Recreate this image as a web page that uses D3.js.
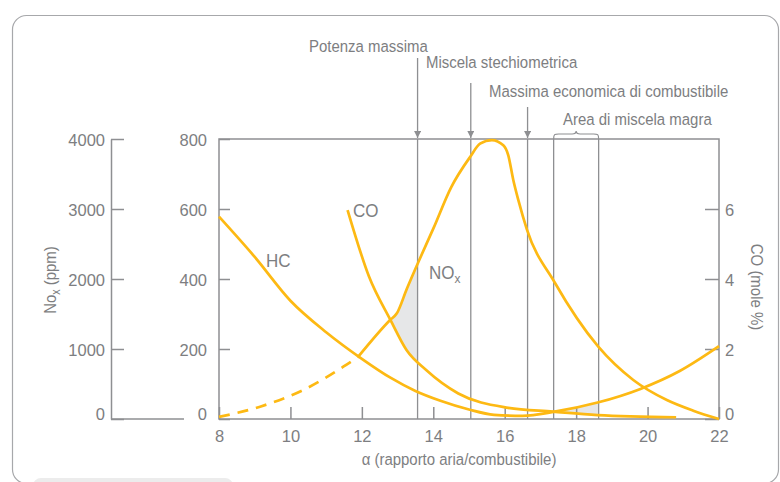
<!DOCTYPE html>
<html><head><meta charset="utf-8">
<script src="https://cdn.jsdelivr.net/npm/d3@7"></script>
<style>body{margin:0;background:#fff}svg{display:block}</style>
</head><body><svg id="c" width="780" height="482"></svg>
<script>
// ---------- data ----------
const xTicks = [8,10,12,14,16,18,20,22];
const hcTicks = [0,200,400,600,800];
const noxTicks = [0,1000,2000,3000,4000];
const coTicks = [0,2,4,6];

const hcData = [[8,578],[9,463],[10,338],[11,248],[12,172],[12.8,118],[13.5,80],[14.2,52],[15,27],[15.7,12],[16.5,9],[17.4,21],[18.6,47],[19.8,86],[20.9,137],[22,208]];
const coData = [[11.6,5.97],[12.2,4.07],[12.8,2.83],[13.25,1.97],[13.8,1.4],[14.7,0.73],[16.1,0.32],[17.35,0.21],[18.6,0.11],[20.8,0.05]];
const noxData = [[8,30],[9.15,176],[10.36,414],[11.48,747],[11.9,890],[12.79,1414],[12.98,1510],[13.26,1861],[13.58,2240],[14.0,2719],[14.5,3310],[15.03,3743],[15.31,3933],[15.64,3985],[15.96,3910],[16.1,3767],[16.24,3414],[16.38,3129],[16.62,2710],[17.4,1950],[18.62,1033],[19.6,557],[20.54,271],[21.28,119],[22,0]];
const noxDashEnd = 11.9;

const markerLabels = ["Potenza massima","Miscela stechiometrica","Massima economica di combustibile"];
const markerX = [13.56, 15.05, 16.64];
const leanLabel = "Area di miscela magra";
const leanX = [17.37, 18.63];

// ---------- layout / style ----------
const ORANGE = "#fdb913", GRAY = "#8e8f92", TEXT = "#7d7e81", SHADE = "#e6e7e8";
const FONT = "'Liberation Sans', Arial, Helvetica, sans-serif";
const L = 219, R = 719, T = 139, B = 419;
const markerTextPos = [[309,52],[426,68],[489,97]];
const markerArrowTop = [58,83,107];

const svg = d3.select("#c").attr("font-family", FONT);

const x = d3.scaleLinear().domain([8,22]).range([L,R]);
const yHC = d3.scaleLinear().domain([0,800]).range([B,T]);
const yNOx = d3.scaleLinear().domain([0,4000]).range([B,T]);
const yCO = d3.scaleLinear().domain([0,8]).range([B,T]);

function txt(g, px, py, str, o = {}) {
  const size = o.size || 17, sx = o.sx || 0.88, rot = o.rot || 0;
  return g.append("text")
    .attr("transform", `translate(${px},${py}) rotate(${rot}) scale(${sx},1)`)
    .attr("text-anchor", o.anchor || "start")
    .attr("font-size", size).attr("fill", o.fill || TEXT)
    .text(str);
}

// card
svg.append("rect").attr("x",12.5).attr("y",15.5).attr("width",766).attr("height",468)
  .attr("rx",14).attr("fill","none").attr("stroke","#a7a8ab").attr("stroke-width",1.2);
svg.append("rect").attr("x",33).attr("y",478).attr("width",200).attr("height",20)
  .attr("rx",8).attr("fill","#ececec");

// lines (generators)
const curve = d3.curveMonotoneX;
const lineHC = d3.line().x(d=>x(d[0])).y(d=>yHC(d[1])).curve(curve);
const lineCO = d3.line().x(d=>x(d[0])).y(d=>yCO(d[1])).curve(curve);
const lineNOx = d3.line().x(d=>x(d[0])).y(d=>yNOx(d[1])).curve(curve);

const gShade = svg.append("g");
const gGrid = svg.append("g");
const gAxes = svg.append("g");
const gLines = svg.append("g");
const gText = svg.append("g");

const pHC = gLines.append("path").datum(hcData).attr("d", lineHC);
const pCO = gLines.append("path").datum(coData).attr("d", lineCO);
const pNOxD = gLines.append("path").datum(noxData.filter(d=>d[0]<=noxDashEnd)).attr("d", lineNOx)
  .attr("stroke-dasharray","11,8");
const pNOx = gLines.append("path").datum(noxData.filter(d=>d[0]>=noxDashEnd)).attr("d", lineNOx);
gLines.selectAll("path").attr("fill","none").attr("stroke",ORANGE).attr("stroke-width",2.7)
  .attr("stroke-linejoin","round");

// lookup y(px) along rendered path
function lookup(node) {
  const len = node.getTotalLength(), pts = [];
  for (let i = 0; i <= 800; i++) { const p = node.getPointAtLength(len*i/800); pts.push({x:p.x,y:p.y}); }
  pts.sort((a,b)=>a.x-b.x);
  const bis = d3.bisector(p=>p.x).left;
  return px => {
    const i = bis(pts, px);
    if (i <= 0) return pts[0].y;
    if (i >= pts.length) return pts[pts.length-1].y;
    const a = pts[i-1], b = pts[i], t = (px-a.x)/((b.x-a.x)||1);
    return a.y + t*(b.y-a.y);
  };
}
const fHC = lookup(pHC.node()), fCO = lookup(pCO.node()), fNOx = lookup(pNOx.node());

function shade(fUp, fLo, x0, x1) {
  let s = x0;
  for (let px = x0; px <= x1; px += 0.25) { if (fUp(px) <= fLo(px)) { s = px; break; } }
  const up = [], lo = [];
  for (let px = s; px <= x1 + 0.001; px += 0.5) { up.push([px, fUp(px)]); lo.push([px, fLo(px)]); }
  up.push([x1, fUp(x1)]); lo.push([x1, fLo(x1)]);
  const poly = up.concat(lo.reverse());
  gShade.append("path").attr("d", "M" + poly.map(p=>p.join(",")).join("L") + "Z").attr("fill", SHADE);
}
shade(fNOx, fCO, x(12.3), x(markerX[0]));
shade(fHC, fCO, x(leanX[0]), x(leanX[1]));

// vertical marker lines
gGrid.selectAll("line.v").data(markerX.concat(leanX)).join("line")
  .attr("x1", d=>x(d)).attr("x2", d=>x(d)).attr("y1", T).attr("y2", B)
  .attr("stroke", GRAY).attr("stroke-width", 1.3);

// frame
gAxes.append("rect").attr("x",L).attr("y",T).attr("width",R-L).attr("height",B-T)
  .attr("fill","none").attr("stroke",GRAY).attr("stroke-width",1.5);

function styleAxis(g) {
  g.attr("font-family", FONT).attr("font-size", 16.5);
  g.selectAll("line").attr("stroke", GRAY).attr("stroke-width", 1.5);
  g.selectAll("path.domain").attr("stroke", GRAY).attr("stroke-width", 1.5);
  g.selectAll("text").attr("fill", TEXT);
}
const fmt = d3.format("d");
const gx = gAxes.append("g").attr("transform",`translate(0,${B})`)
  .call(d3.axisBottom(x).tickValues(xTicks).tickFormat(fmt).tickSizeInner(-12).tickSizeOuter(0).tickPadding(11));
gx.select(".domain").remove(); styleAxis(gx);

const gy1 = gAxes.append("g").attr("transform",`translate(${L},0)`)
  .call(d3.axisLeft(yHC).tickValues(hcTicks).tickFormat(fmt).tickSizeInner(-11).tickSizeOuter(0).tickPadding(12));
gy1.select(".domain").remove(); styleAxis(gy1);

const gy0 = gAxes.append("g").attr("transform",`translate(111,0)`)
  .call(d3.axisLeft(yNOx).tickValues(noxTicks).tickFormat(fmt).tickSizeInner(-13).tickSizeOuter(0).tickPadding(6));
styleAxis(gy0);
gAxes.append("line").attr("x1",111).attr("x2",184).attr("y1",B).attr("y2",B)
  .attr("stroke",GRAY).attr("stroke-width",1.5);

const gy2 = gAxes.append("g").attr("transform",`translate(${R},0)`)
  .call(d3.axisRight(yCO).tickValues(coTicks).tickFormat(fmt).tickSizeInner(-14).tickSizeOuter(0).tickPadding(6));
gy2.select(".domain").remove(); styleAxis(gy2);

[gy0, gy1, gy2].forEach(g => g.selectAll(".tick text").filter(d=>d===0).attr("dy","0.05em"));
[gy0, gy1, gy2].forEach(g => g.selectAll(".tick text").filter(d=>d!==0).attr("dy","0.4em"));

// arrows + marker labels
svg.append("defs").append("marker").attr("id","ah").attr("viewBox","0 0 10 10")
  .attr("refX",10).attr("refY",5).attr("markerWidth",7).attr("markerHeight",7)
  .attr("markerUnits","userSpaceOnUse").attr("orient","auto")
  .append("path").attr("d","M0,0L10,5L0,10Z").attr("fill",GRAY);
markerX.forEach((mx, i) => {
  gText.append("line").attr("x1", x(mx)).attr("x2", x(mx)).attr("y1", markerArrowTop[i]).attr("y2", T-1)
    .attr("stroke", GRAY).attr("stroke-width", 1.3).attr("marker-end","url(#ah)");
  txt(gText, markerTextPos[i][0], markerTextPos[i][1], markerLabels[i]);
});
txt(gText, 563, 125, leanLabel);
const bx0 = x(leanX[0]), bx1 = x(leanX[1]), bm = (bx0+bx1)/2;
gText.append("path")
  .attr("d", `M${bx0},${T}C${bx0},${T-5} ${bx0+1},${T-5} ${bx0+5},${T-5}L${bm-4},${T-5}C${bm-1},${T-5} ${bm},${T-6} ${bm},${T-8}C${bm},${T-6} ${bm+1},${T-5} ${bm+4},${T-5}L${bx1-5},${T-5}C${bx1-1},${T-5} ${bx1},${T-5} ${bx1},${T}`)
  .attr("fill","none").attr("stroke",GRAY).attr("stroke-width",1.2);

// axis titles
txt(gText, 459, 465, "α (rapporto aria/combustibile)", {anchor:"middle"});
const tN = txt(gText, 56, 280, "No", {anchor:"middle", rot:-90});
tN.append("tspan").attr("font-size",12).attr("dy",4).text("x");
tN.append("tspan").attr("dy",-4).text(" (ppm)");
txt(gText, 751, 287, "CO (mole %)", {anchor:"middle", rot:90});

// series labels
txt(gText, 266, 267, "HC", {size:18.5, sx:0.92});
txt(gText, 353, 217, "CO", {size:18.5, sx:0.92});
const tX = txt(gText, 429, 279, "NO", {size:18.5, sx:0.92});
tX.append("tspan").attr("font-size",13).attr("dy",4).text("x");
</script></body></html>
